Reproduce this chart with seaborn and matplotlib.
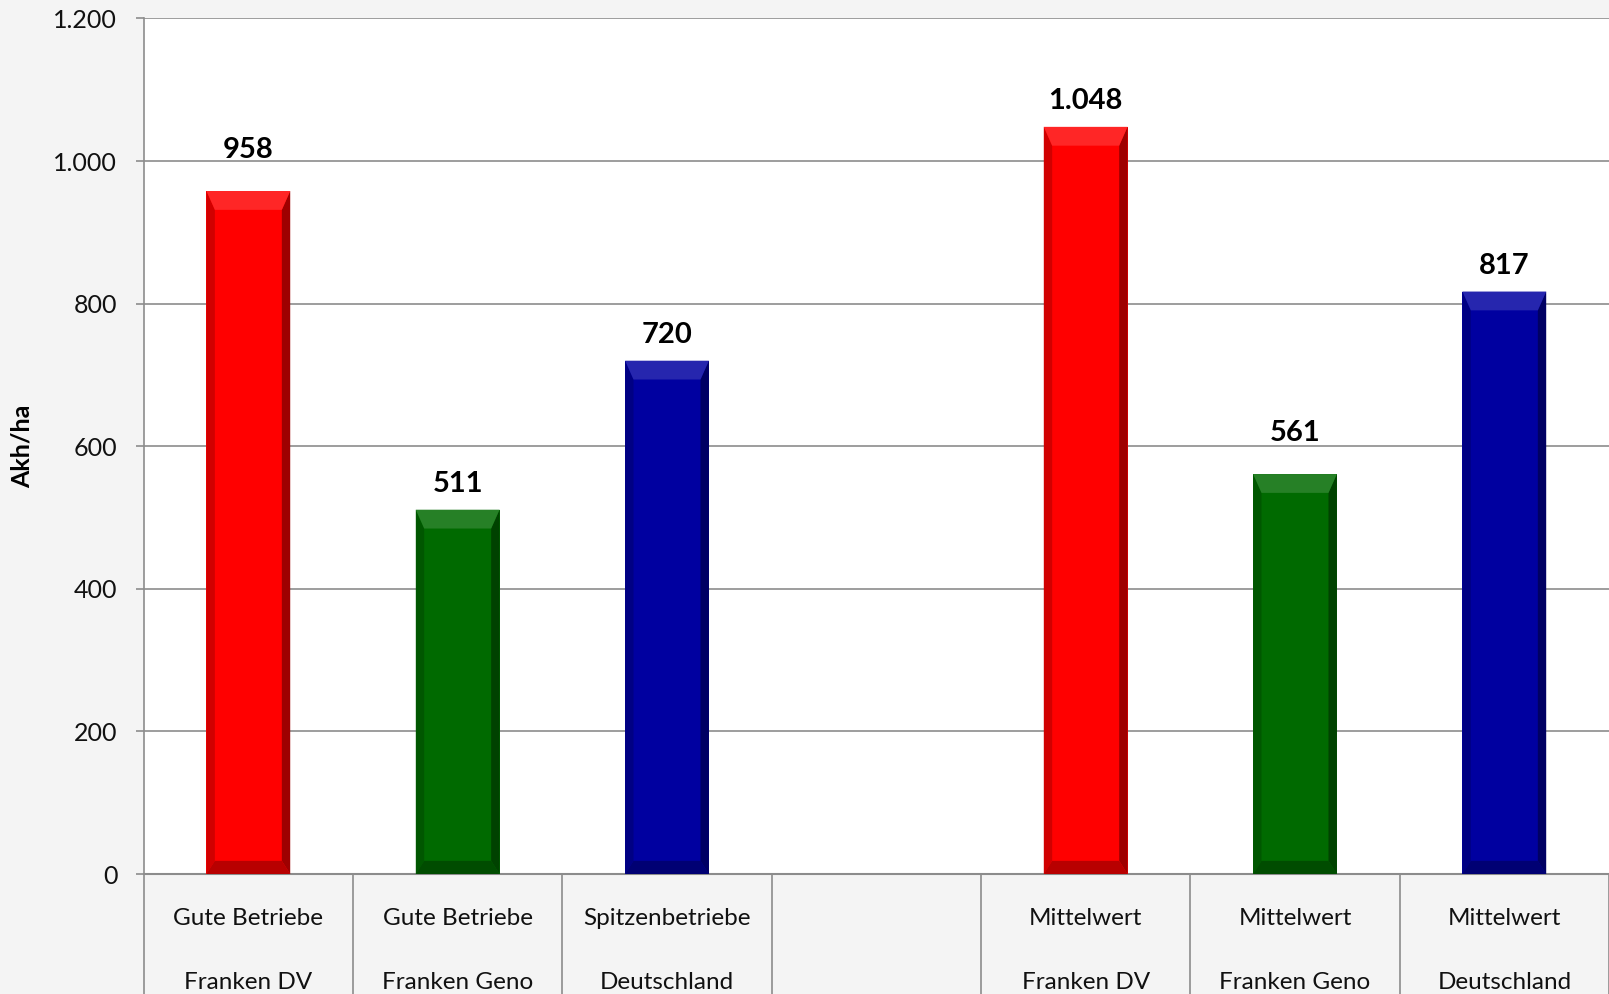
import matplotlib
matplotlib.use("Agg")
import matplotlib.pyplot as plt
import matplotlib.transforms as mtransforms
from matplotlib.patches import Polygon
import seaborn as sns
import pandas as pd
import numpy as np

# Daten aus der Grafik
line1 = ["Gute Betriebe", "Gute Betriebe", "Spitzenbetriebe", "",
         "Mittelwert", "Mittelwert", "Mittelwert"]
line2 = ["Franken DV", "Franken Geno", "Deutschland", "",
         "Franken DV", "Franken Geno", "Deutschland"]
werte = [958, 511, 720, np.nan, 1048, 561, 817]
farben = ["#ff0000", "#006a00", "#0000a0", "#ffffff",
          "#ff0000", "#006a00", "#0000a0"]
yticks = [0, 200, 400, 600, 800, 1000, 1200]

# Abstand der Datenbeschriftung über dem Balken (Pixel), wie im Original verschoben
label_abstand = [33, 18, 18, 0, 18, 33, 18]

keys = [f"{a}|{b}" if a else " " for a, b in zip(line1, line2)]
df = pd.DataFrame({"kat": keys, "wert": werte})
palette = dict(zip(keys, farben))


def punkt(v):
    return f"{v:,.0f}".replace(",", ".")


def dunkler(c, f):
    r, g, b = matplotlib.colors.to_rgb(c)
    return (r * f, g * f, b * f)


def heller(c, f):
    r, g, b = matplotlib.colors.to_rgb(c)
    return (r + (1 - r) * f, g + (1 - g) * f, b + (1 - b) * f)


sns.set_theme(style="white")
plt.rcParams["font.family"] = ["Lato", "DejaVu Sans"]

fig = plt.figure(figsize=(16.09, 9.94), dpi=100, facecolor="#f4f4f4")
ax = fig.add_axes([0.0893, 0.1207, 0.9107, 0.8607])
ax.set_facecolor("white")

sns.barplot(data=df, x="kat", y="wert", hue="kat", palette=palette,
            order=keys, width=0.4, legend=False, saturation=1,
            errorbar=None, ax=ax, zorder=3)

# Bevel-Effekt auf den Balken (Farbe über die Position bestimmt)
for patch in list(ax.patches):
    h = patch.get_height()
    if not np.isfinite(h) or h <= 0:
        continue
    x0, w = patch.get_x(), patch.get_width()
    i = int(round(x0 + w / 2))
    farbe = farben[i]
    patch.set_facecolor(farbe)
    patch.set_edgecolor("none")
    sw = w * 0.10
    th = 1200 * 0.022
    x1 = x0 + w
    # links
    ax.add_patch(Polygon([(x0, 0), (x0 + sw, th * 0.7), (x0 + sw, h - th), (x0, h)],
                         closed=True, color=dunkler(farbe, 0.82), lw=0, zorder=4))
    # rechts
    ax.add_patch(Polygon([(x1, 0), (x1 - sw, th * 0.7), (x1 - sw, h - th), (x1, h)],
                         closed=True, color=dunkler(farbe, 0.62), lw=0, zorder=4))
    # oben
    ax.add_patch(Polygon([(x0, h), (x0 + sw, h - th), (x1 - sw, h - th), (x1, h)],
                         closed=True, color=heller(farbe, 0.15), lw=0, zorder=4))
    # unten
    ax.add_patch(Polygon([(x0, 0), (x0 + sw, th * 0.7), (x1 - sw, th * 0.7), (x1, 0)],
                         closed=True, color=dunkler(farbe, 0.72), lw=0, zorder=4))
    ax.annotate(punkt(h), (x0 + w / 2, h), xytext=(0, label_abstand[i]),
                textcoords="offset pixels", ha="center", va="baseline",
                fontsize=21, fontweight="bold", color="black", zorder=5)

ax.set_xlim(-0.5, len(keys) - 0.5)
ax.set_ylim(0, 1200)
ax.set_yticks(yticks)
ax.set_yticklabels([punkt(v) for v in yticks], fontsize=18, color="#111111")
ax.tick_params(axis="y", length=6, width=1.2, color="#8c8c8c", pad=13, left=True)
ax.set_xticks([])
ax.set_xlabel("")
ax.set_ylabel("Akh/ha", fontsize=18, fontweight="bold", color="black")
ax.yaxis.set_label_coords(-0.075, 0.5)

ax.grid(axis="y", color="#8c8c8c", lw=1.2, zorder=0)
for s in ["top", "right"]:
    ax.spines[s].set_visible(False)
ax.spines["left"].set_color("#8c8c8c")
ax.spines["left"].set_linewidth(1.2)
ax.spines["bottom"].set_color("#8c8c8c")
ax.spines["bottom"].set_linewidth(1.5)

# Kategoriebeschriftung und Trennlinien unterhalb der Achse
trans = mtransforms.blended_transform_factory(ax.transData, ax.transAxes)
for i in range(len(keys) + 1):
    ax.plot([i - 0.5, i - 0.5], [0, -0.2], transform=trans, color="#8c8c8c",
            lw=1.2, clip_on=False, zorder=1)
for i, (a, b) in enumerate(zip(line1, line2)):
    ax.text(i, -44 / 855.5, a, transform=trans, ha="center", va="center",
            fontsize=17.5, color="#111111")
    ax.text(i, -108 / 855.5, b, transform=trans, ha="center", va="center",
            fontsize=17.5, color="#111111")

fig.savefig("out.png", dpi=100, facecolor=fig.get_facecolor())
